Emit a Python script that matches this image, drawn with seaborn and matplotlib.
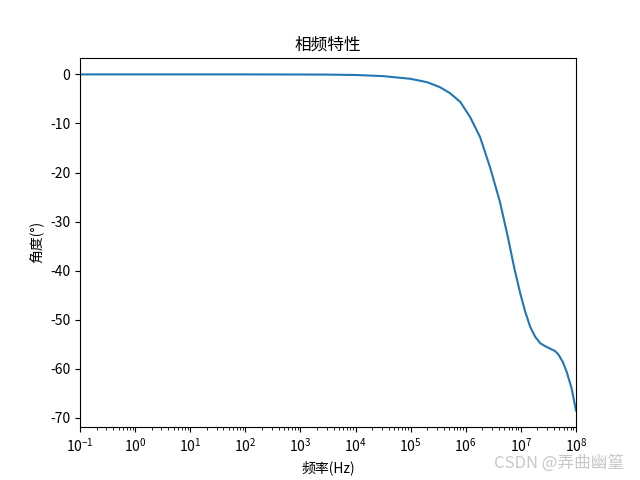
import matplotlib
matplotlib.use("Agg")
import matplotlib.pyplot as plt
import pandas as pd
import seaborn as sns

# frequency (Hz) and phase (degrees)
freq_hz = [
    1e-1, 1e0, 1e1, 1e2, 1e3, 3.16e3, 1e4, 3.16e4, 1e5, 2e5, 3.39e5,
    5.13e5, 7.94e5, 1.2e6, 1.82e6, 2.75e6, 4.17e6, 5.89e6, 7.59e6,
    9.77e6, 1.2e7, 1.48e7, 1.82e7, 2.24e7, 2.75e7, 3.39e7, 4.17e7,
    4.79e7, 5.75e7, 6.76e7, 8.32e7, 1e8,
]
phase_deg = [
    0.0, 0.0, 0.0, 0.0, -0.02, -0.04, -0.12, -0.35, -0.9, -1.6, -2.6,
    -3.8, -5.6, -8.7, -12.8, -18.9, -26.0, -33.5, -39.5,
    -44.7, -48.4, -51.5, -53.5, -54.8, -55.4, -55.9, -56.4,
    -57.1, -58.6, -60.6, -64.0, -68.5,
]

df = pd.DataFrame({"freq": freq_hz, "phase": phase_deg})

plt.rcParams["font.family"] = ["Noto Sans CJK SC", "DejaVu Sans"]
plt.rcParams["axes.unicode_minus"] = False

fig, ax = plt.subplots(figsize=(6.4, 4.8), dpi=100)
sns.lineplot(data=df, x="freq", y="phase", ax=ax, color="#1f77b4", linewidth=1.5)
ax.set_xscale("log")
ax.set_xlim(1e-1, 1e8)
ax.set_title("相频特性")
ax.set_xlabel("频率(Hz)")
ax.set_ylabel("角度(°)")

fig.text(0.975, 0.035, "CSDN @弄曲幽篁", ha="right", va="center",
         fontsize=12, color="#c8c8c8")

fig.savefig("out.png", dpi=100)
